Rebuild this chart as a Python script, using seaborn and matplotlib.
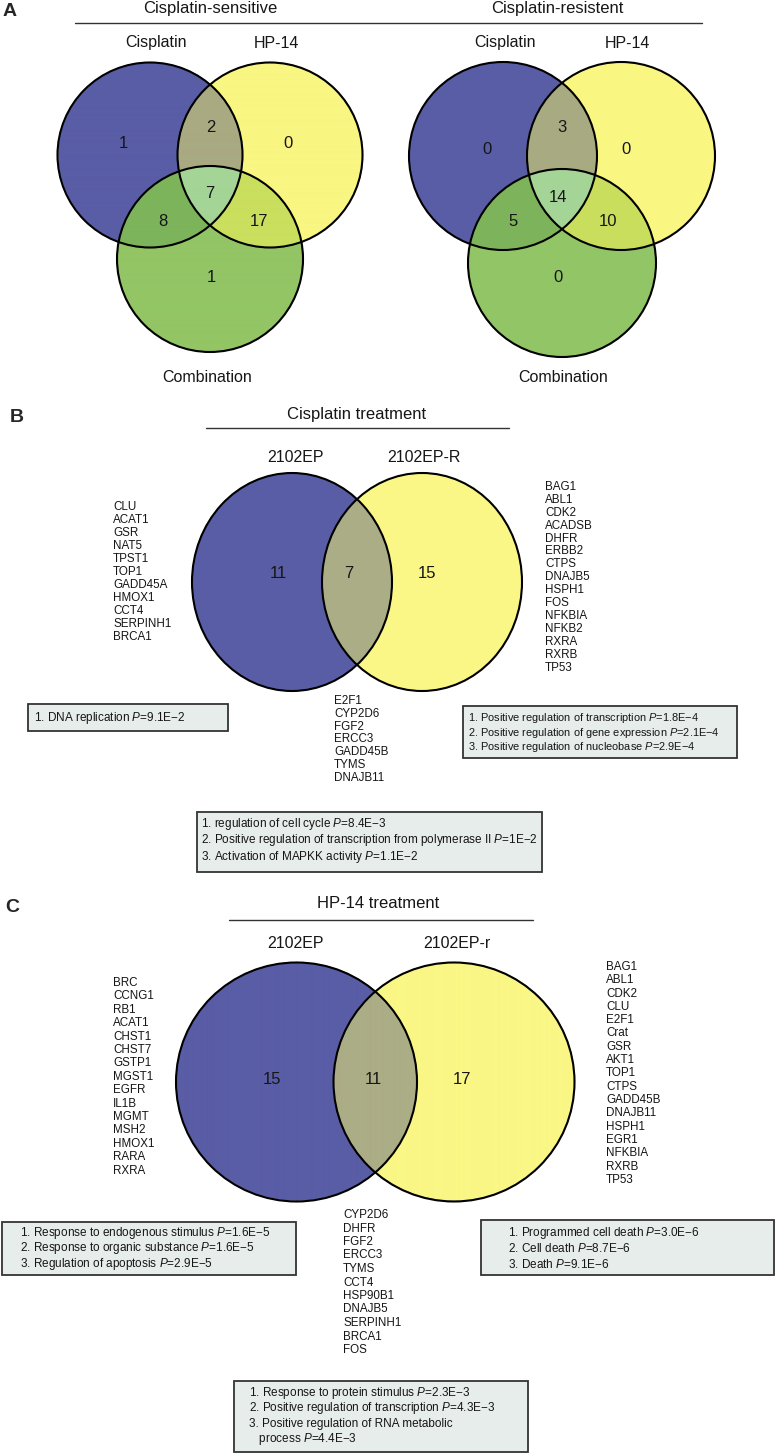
import numpy as np
import matplotlib
matplotlib.use("Agg")
import matplotlib.pyplot as plt
import matplotlib.colors as mcolors
from matplotlib.patches import Ellipse, Rectangle
import seaborn as sns

sns.set_theme(style="white")
plt.rcParams['font.family'] = ['Liberation Sans', 'DejaVu Sans']
plt.rcParams['mathtext.fontset'] = 'custom'
plt.rcParams['mathtext.rm'] = 'Liberation Sans'
plt.rcParams['mathtext.it'] = 'Liberation Sans:italic'

# --- data ---
# panel A region order: Cis only, HP only, Cis&HP, Comb only, Cis&Comb, HP&Comb, all three
a_sets = ["Cisplatin", "HP-14", "Combination"]
a_groups = ["Cisplatin-sensitive", "Cisplatin-resistent"]
sens_counts = [1, 0, 2, 1, 8, 17, 7]
res_counts = [0, 0, 3, 0, 5, 10, 14]

# panel B: 2102EP only, 2102EP-R only, shared
b_title = "Cisplatin treatment"
b_sets = ["2102EP", "2102EP-R"]
b_counts = [11, 15, 7]
b_genes_left = ["CLU", "ACAT1", "GSR", "NAT5", "TPST1", "TOP1", "GADD45A",
                "HMOX1", "CCT4", "SERPINH1", "BRCA1"]
b_genes_right = ["BAG1", "ABL1", "CDK2", "ACADSB", "DHFR", "ERBB2", "CTPS",
                 "DNAJB5", "HSPH1", "FOS", "NFKBIA", "NFKB2", "RXRA", "RXRB", "TP53"]
b_genes_mid = ["E2F1", "CYP2D6", "FGF2", "ERCC3", "GADD45B", "TYMS", "DNAJB11"]
b_go_left = ["1. DNA replication $P$=9.1E\u22122"]
b_go_right = ["1. Positive regulation of transcription $P$=1.8E\u22124",
              "2. Positive regulation of gene expression $P$=2.1E\u22124",
              "3. Positive regulation of nucleobase $P$=2.9E\u22124"]
b_go_mid = ["1. regulation of cell cycle $P$=8.4E\u22123",
            "2. Positive regulation of transcription from polymerase II $P$=1E\u22122",
            "3. Activation of MAPKK activity $P$=1.1E\u22122"]

# panel C
c_title = "HP-14 treatment"
c_sets = ["2102EP", "2102EP-r"]
c_counts = [15, 17, 11]
c_genes_left = ["BRC", "CCNG1", "RB1", "ACAT1", "CHST1", "CHST7", "GSTP1", "MGST1",
                "EGFR", "IL1B", "MGMT", "MSH2", "HMOX1", "RARA", "RXRA"]
c_genes_right = ["BAG1", "ABL1", "CDK2", "CLU", "E2F1", "Crat", "GSR", "AKT1", "TOP1",
                 "CTPS", "GADD45B", "DNAJB11", "HSPH1", "EGR1", "NFKBIA", "RXRB", "TP53"]
c_genes_mid = ["CYP2D6", "DHFR", "FGF2", "ERCC3", "TYMS", "CCT4", "HSP90B1",
               "DNAJB5", "SERPINH1", "BRCA1", "FOS"]
c_go_left = ["1. Response to endogenous stimulus $P$=1.6E\u22125",
             "2. Response to organic substance $P$=1.6E\u22125",
             "3. Regulation of apoptosis $P$=2.9E\u22125"]
c_go_right = ["1. Programmed cell death $P$=3.0E\u22126",
              "2. Cell death $P$=8.7E\u22126",
              "3. Death $P$=9.1E\u22126"]
c_go_mid = ["1. Response to protein stimulus $P$=2.3E\u22123",
            "2. Positive regulation of transcription $P$=4.3E\u22123",
            "3. Positive regulation of RNA metabolic",
            "   process $P$=4.4E\u22123"]

# region colours by membership code (bit0 = first set, bit1 = second, bit2 = third)
venn3_colors = {1: "#595da6", 2: "#f9f682", 3: "#a9aa82", 4: "#93c565",
                5: "#7db45b", 6: "#cadf5e", 7: "#a4d597"}
venn2_colors = {1: "#595da6", 2: "#faf786", 3: "#abad86"}
box_face = "#e7edeb"
box_edge = "#333333"
TXT = "#161616"

GENE_FS = 8.4
BOX_FS = 8.5
NUM_FS = 12


def fill_regions(ax, shapes, colors):
    x0 = min(s[0] - s[2] for s in shapes) - 3
    x1 = max(s[0] + s[2] for s in shapes) + 3
    y0 = min(s[1] - s[3] for s in shapes) - 3
    y1 = max(s[1] + s[3] for s in shapes) + 3
    X, Y = np.meshgrid(np.linspace(x0, x1, int((x1 - x0) * 3)),
                       np.linspace(y0, y1, int((y1 - y0) * 3)))
    code = np.zeros(X.shape, dtype=int)
    for i, (cx, cy, rx, ry) in enumerate(shapes):
        inside = ((X - cx) / rx) ** 2 + ((Y - cy) / ry) ** 2 <= 1
        code |= inside.astype(int) << i
    img = np.zeros(X.shape + (4,))
    for c, col in colors.items():
        img[code == c] = mcolors.to_rgba(col)
    ax.imshow(img, extent=(x0, x1, y1, y0), origin="upper",
              interpolation="antialiased", aspect="auto", zorder=1)
    for cx, cy, rx, ry in shapes:
        ax.add_patch(Ellipse((cx, cy), 2 * rx, 2 * ry, fill=False,
                             ec="black", lw=1.5, zorder=3))


def gene_list(ax, genes, x, y, step):
    for i, g in enumerate(genes):
        ax.text(x, y + i * step, g, fontsize=GENE_FS, ha="left", va="center",
                color=TXT, zorder=4)


def go_box(ax, lines, x0, y0, x1, y1, tx, ty, step, fs=BOX_FS):
    ax.add_patch(Rectangle((x0, y0), x1 - x0, y1 - y0, fc=box_face, ec=box_edge,
                           lw=1.3, zorder=2))
    for i, ln in enumerate(lines):
        ax.text(tx, ty + i * step, ln, fontsize=fs, ha="left", va="center",
                color=TXT, zorder=4)


fig = plt.figure(figsize=(7.77, 14.54), dpi=100)
ax = fig.add_axes([0, 0, 1, 1])

# ---------------- Panel A ----------------
ax.text(3, 11, "A", fontsize=14, fontweight="bold", ha="left", va="center")
ax.plot([75, 702], [23, 23], color="#333333", lw=1.0)
ax.text(210, 9, a_groups[0], fontsize=12, ha="center", va="center", color=TXT)
ax.text(557, 9, a_groups[1], fontsize=12, ha="center", va="center", color=TXT)

a_layout = [
    dict(shapes=[(150, 155, 92.5, 92.5), (270, 155, 92.5, 92.5), (210, 259, 93, 93)],
         labels=[(156, 43), (276, 43), (207, 377)],
         pos=[(123, 144), (288, 144), (211, 128), (211, 277), (163, 221), (259, 221), (210, 194)],
         counts=sens_counts),
    dict(shapes=[(503, 156, 94, 94), (621, 156, 94, 94), (562, 263, 94, 94)],
         labels=[(505, 43), (627, 43), (563, 377)],
         pos=[(487, 150), (626, 150), (562, 128), (558, 277), (513, 222), (608, 222), (558, 197)],
         counts=res_counts),
]
for v in a_layout:
    fill_regions(ax, v["shapes"], venn3_colors)
    for name, (lx, ly) in zip(a_sets, v["labels"]):
        ax.text(lx, ly, name, fontsize=11.5, ha="center", va="center", color=TXT)
    for n, (px, py) in zip(v["counts"], v["pos"]):
        ax.text(px, py, str(n), fontsize=NUM_FS, ha="center", va="center",
                color=TXT, zorder=4)

# ---------------- Panel B ----------------
ax.text(10, 417, "B", fontsize=14, fontweight="bold", ha="left", va="center")
ax.text(357, 414, b_title, fontsize=12, ha="center", va="center", color=TXT)
ax.plot([206, 509], [428, 428], color="#333333", lw=1.0)
ax.text(296, 457, b_sets[0], fontsize=11.5, ha="center", va="center", color=TXT)
ax.text(424, 457, b_sets[1], fontsize=11.5, ha="center", va="center", color=TXT)
fill_regions(ax, [(292, 582, 100, 109), (422, 582, 100, 109)], venn2_colors)
for n, (px, py) in zip(b_counts, [(278, 573), (427, 574), (349, 573)]):
    ax.text(px, py, str(n), fontsize=NUM_FS, ha="center", va="center",
            color=TXT, zorder=4)
gene_list(ax, b_genes_left, 113, 507, 13.0)
gene_list(ax, b_genes_right, 545, 487, 12.9)
gene_list(ax, b_genes_mid, 334, 701, 12.8)
go_box(ax, b_go_left, 28, 704, 228, 731, 34, 717.5, 15)
go_box(ax, b_go_right, 463, 706, 737, 758, 468, 718, 14.5, fs=7.9)
go_box(ax, b_go_mid, 197, 812, 542, 872, 201, 824, 16.5)

# ---------------- Panel C ----------------
ax.text(5, 907, "C", fontsize=14, fontweight="bold", ha="left", va="center")
ax.text(378, 903, c_title, fontsize=12, ha="center", va="center", color=TXT)
ax.plot([229, 533], [920, 920], color="#333333", lw=1.0)
ax.text(296, 944, c_sets[0], fontsize=11.5, ha="center", va="center", color=TXT)
ax.text(457, 944, c_sets[1], fontsize=11.5, ha="center", va="center", color=TXT)
fill_regions(ax, [(296.5, 1082, 120.5, 119.5), (454, 1082, 120.5, 119.5)], venn2_colors)
for n, (px, py) in zip(c_counts, [(272, 1079), (462, 1079), (373, 1079)]):
    ax.text(px, py, str(n), fontsize=NUM_FS, ha="center", va="center",
            color=TXT, zorder=4)
gene_list(ax, c_genes_left, 113, 983, 13.4)
gene_list(ax, c_genes_right, 606, 967, 13.3)
gene_list(ax, c_genes_mid, 343, 1215, 13.5)
go_box(ax, c_go_left, 2, 1222, 296, 1275, 20, 1233, 15.5)
go_box(ax, c_go_right, 481, 1220, 774, 1275, 508, 1233, 16)
go_box(ax, c_go_mid, 234, 1381, 528, 1452, 249, 1393, 15.4)

ax.set_xlim(0, 777)
ax.set_ylim(1454, 0)
ax.axis("off")
fig.savefig("out.png", dpi=100)
